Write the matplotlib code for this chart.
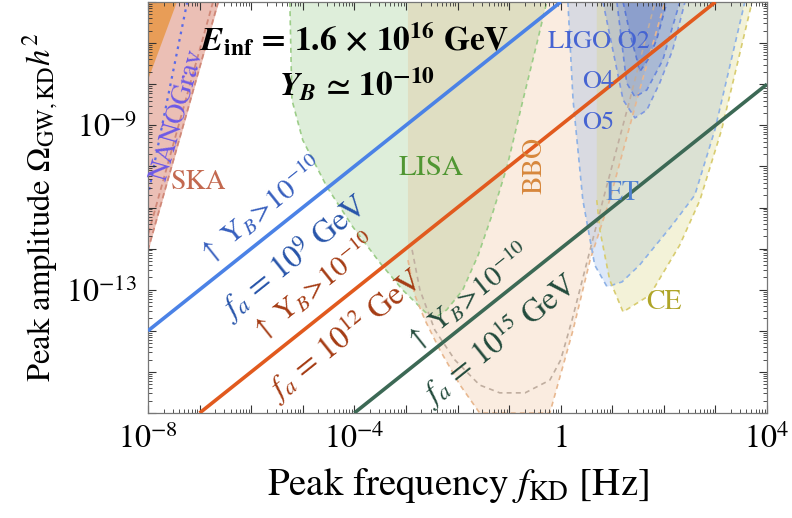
import numpy as np
import matplotlib
matplotlib.use("Agg")
import matplotlib.pyplot as plt
from matplotlib.ticker import FixedLocator, FuncFormatter, LogLocator, NullFormatter

plt.rcParams['font.family'] = ['STIXGeneral', 'DejaVu Sans']
plt.rcParams['mathtext.fontset'] = 'stix'

# ---------------- data (log10 values) ----------------
# Baryon-asymmetry lines: Omega = f * const (two points each)
blue_logf = [-8.0, 0.0]
blue_logo = [-14.0, -6.0]
orange_logf = [-7.0, 3.0]
orange_logo = [-16.0, -6.0]
green_logf = [-4.0, 4.0]
green_logo = [-16.0, -8.0]

# PTA (orange corner)
pta_logf = [-8.0, -7.44, -8.0]
pta_logo = [-6.0, -6.0, -7.9]

# SKA
ska_logf = [-8.0, -6.62, -8.0]
ska_logo = [-6.0, -6.0, -12.1]
ska_edge1_logf = [-6.74, -8.0]
ska_edge1_logo = [-6.0, -11.67]
ska_edge2_logf = [-6.64, -8.0]
ska_edge2_logo = [-6.0, -12.03]

# NANOGrav (dotted)
nano_logf = [-7.24, -8.0]
nano_logo = [-6.0, -10.7]

# LISA
lisa_logf = [-5.25, -5.21, -5.0, -4.53, -4.03, -3.50, -3.06, -2.63, -2.44,
             -2.21, -1.90, -1.60, -1.33, -1.04, -0.73, -0.46, -0.27]
lisa_logo = [-6.0, -8.38, -9.36, -10.50, -11.47, -12.35, -13.01, -13.54, -13.69,
             -13.49, -13.01, -12.16, -11.18, -10.01, -8.38, -7.0, -6.0]

# BBO (outer, filled)
bbo_logf = [-2.96, -2.96, -2.83, -2.63, -2.34, -1.95, -1.57, -0.21,
            0.24, 0.57, 0.95, 1.53, 2.02]
bbo_logo = [-6.0, -12.28, -13.13, -13.74, -14.47, -15.32, -16.0, -16.0,
            -13.98, -12.28, -10.82, -8.14, -6.0]
# BBO inner dashed curve
bbo2_logf = [-2.88, -2.73, -2.44, -2.05, -1.57, -1.18, -0.69, -0.21,
             0.0, 0.22, 0.47, 0.82, 1.34, 1.83]
bbo2_logo = [-12.03, -13.0, -13.98, -14.71, -15.32, -15.51, -15.51, -15.2,
             -14.71, -13.74, -12.52, -10.82, -8.38, -6.0]

# ET
et_logf = [0.14, 0.24, 0.43, 0.66, 0.90, 1.19, 1.53, 2.16, 2.60, 2.99, 3.57]
et_logo = [-6.0, -8.38, -10.82, -12.40, -12.93, -12.81, -12.40, -11.43, -10.70, -9.11, -6.0]

# CE
ce_logf = [0.70, 0.70, 0.76, 0.95, 1.21, 1.73, 2.31, 2.70, 3.12, 3.71]
ce_logo = [-6.0, -10.82, -11.55, -12.76, -13.54, -13.13, -11.91, -10.82, -9.11, -6.0]

# LIGO
o5_logf = [0.82, 1.21, 1.44, 1.67, 1.92, 2.17, 2.41]
o5_logo = [-6.0, -8.38, -8.82, -8.63, -7.97, -7.17, -6.0]
o4_logf = [1.09, 1.28, 1.44, 1.67, 1.98, 2.31]
o4_logo = [-6.0, -7.97, -8.31, -8.14, -7.41, -6.0]
o2_logf = [1.21, 1.34, 1.48, 1.53, 1.69, 1.86, 2.06]
o2_logo = [-6.0, -6.75, -7.41, -7.70, -7.41, -6.92, -6.0]

xtick_labels = {-8: r"$10^{-8}$", -4: r"$10^{-4}$", 0: r"$1$", 4: r"$10^{4}$"}
ytick_labels = {-9: r"$10^{-9}$", -13: r"$10^{-13}$"}

# ---------------- figure ----------------
fig = plt.figure(figsize=(7.92, 5.18), dpi=100)
ax = fig.add_axes([148/792, 1-413/518, (767-148)/792, (413-2)/518])
ax.set_xscale('log')
ax.set_yscale('log')
ax.set_xlim(1e-8, 1e4)
ax.set_ylim(1e-16, 1e-6)

P = lambda a: 10.0**np.asarray(a)

def region(lf, lo, fc, alpha, ec=None, dash_slice=None, z=1):
    ax.fill(P(lf), P(lo), color=fc, alpha=alpha, lw=0, zorder=z)
    if ec is not None:
        s = dash_slice if dash_slice is not None else slice(None)
        ax.plot(P(lf)[s], P(lo)[s], ls=(0, (3, 2.5)), color=ec, lw=1.2, zorder=z+0.1)

region(lisa_logf, lisa_logo, '#6cb45a', 0.22, '#9ccd88')
region(bbo_logf, bbo_logo, '#e6a064', 0.2, '#e8b890', dash_slice=slice(1, None))
ax.plot(P(bbo2_logf), P(bbo2_logo), ls=(0, (3, 2.5)), color='#c0aea0', lw=1.2, zorder=1.2)
region(et_logf, et_logo, '#7aa6e6', 0.25, '#8eb2e6')
region(ce_logf, ce_logo, '#d8d480', 0.3, '#d8cc70', dash_slice=slice(1, None))
region(o5_logf, o5_logo, '#6080d8', 0.2, '#7e98e0')
region(o4_logf, o4_logo, '#6080d8', 0.25, '#6a88dc')
region(o2_logf, o2_logo, '#5070d0', 0.3, '#5a78d4')

region(ska_logf, ska_logo, '#d9806c', 0.5)
ax.plot(P(ska_edge1_logf), P(ska_edge1_logo), ls=(0, (3, 2)), color='#d08878', lw=1.3, zorder=1.3)
ax.plot(P(ska_edge2_logf), P(ska_edge2_logo), ls=(0, (3, 2)), color='#d08878', lw=1.3, zorder=1.3)
region(pta_logf, pta_logo, '#e89238', 0.75)
ax.plot(P(nano_logf), P(nano_logo), ls=(0, (1.2, 2.2)), color='#5a6ae8', lw=1.6, zorder=1.4)

ax.plot(P(blue_logf), P(blue_logo), color='#4b82e6', lw=2.6, zorder=3, solid_capstyle='butt')
ax.plot(P(orange_logf), P(orange_logo), color='#e15a1e', lw=2.6, zorder=3, solid_capstyle='butt')
ax.plot(P(green_logf), P(green_logo), color='#3c6955', lw=2.6, zorder=3, solid_capstyle='butt')

# ticks
ax.xaxis.set_major_locator(FixedLocator(P(np.arange(-8, 5))))
ax.yaxis.set_major_locator(FixedLocator(P(np.arange(-16, -5))))
ax.xaxis.set_minor_locator(LogLocator(base=10, subs=np.arange(2, 10), numticks=100))
ax.yaxis.set_minor_locator(LogLocator(base=10, subs=np.arange(2, 10), numticks=100))
ax.xaxis.set_minor_formatter(NullFormatter())
ax.yaxis.set_minor_formatter(NullFormatter())
ax.xaxis.set_major_formatter(FuncFormatter(lambda v, p: xtick_labels.get(int(round(np.log10(v))), '')))
ax.yaxis.set_major_formatter(FuncFormatter(lambda v, p: ytick_labels.get(int(round(np.log10(v))), '')))
ax.tick_params(which='both', direction='in', top=True, right=True, colors='#333333', labelcolor='black')
ax.tick_params(which='major', length=6, width=0.8, labelsize=23, pad=8)
ax.tick_params(which='minor', length=3, width=0.6)
for s in ax.spines.values():
    s.set_color('#777777')
    s.set_linewidth(0.9)

ax.set_xlabel(r"Peak frequency $f_{\rm KD}$ [Hz]", fontsize=28, labelpad=8)
ax.set_ylabel(r"Peak amplitude $\Omega_{\rm GW,KD}h^2$", fontsize=23.5, labelpad=4)

# angle of slope-1 lines on screen
p0 = ax.transData.transform((1e-6, 1e-12))
p1 = ax.transData.transform((1e-2, 1e-8))
ang = np.degrees(np.arctan2(p1[1]-p0[1], p1[0]-p0[0]))

def T(lf, lo, s, **kw):
    ax.text(10**lf, 10**lo, s, ha='center', va='center', zorder=5, **kw)

T(-3.99, -6.92, r"$\mathbfit{E}_{\mathbf{inf}}$ = 1.6 × 10$^{\mathbf{16}}$ GeV", fontsize=24, fontweight='bold')
T(-3.95, -8.02, r"$\mathbfit{Y}_{\mathbfit{B}}$ ≃ 10$^{\mathbf{-10}}$", fontsize=24, fontweight='bold')

T(0.74, -6.97, "LIGO O2", fontsize=19, color='#4664d2')
T(0.72, -7.95, "O4", fontsize=19, color='#4664d2')
T(0.72, -8.94, "O5", fontsize=19, color='#4664d2')
T(1.21, -10.65, "ET", fontsize=20, color='#5082d2')
T(2.0, -13.30, "CE", fontsize=20, color='#afa528')
T(-2.52, -10.04, "LISA", fontsize=21, color='#509632')
T(-0.50, -9.97, "BBO", fontsize=20, color='#d7873c', rotation=90)
T(-7.03, -10.40, "SKA", fontsize=20, color='#c36950')
T(-7.42, -8.75, "NANOGrav", fontsize=20, color='#6e5ae6', rotation=74)

T(-5.83, -11.06, r"$\uparrow\ \mathrm{Y}_B\!>\!10^{-10}$", fontsize=21, color='#375fbe', rotation=ang)
T(-5.17, -12.23, r"$f_a$ = 10$^9$ GeV", fontsize=23, color='#2855aa', rotation=ang)
T(-4.80, -12.93, r"$\uparrow\ \mathrm{Y}_B\!>\!10^{-10}$", fontsize=21, color='#a53c14', rotation=ang)
T(-4.18, -14.10, r"$f_a$ = 10$^{12}$ GeV", fontsize=23, color='#a53c14', rotation=ang)
T(-1.80, -13.18, r"$\uparrow\ \mathrm{Y}_B\!>\!10^{-10}$", fontsize=21, color='#234b3c', rotation=ang)
T(-1.18, -14.22, r"$f_a$ = 10$^{15}$ GeV", fontsize=23, color='#234b3c', rotation=ang)

fig.savefig("out.png", dpi=100)
